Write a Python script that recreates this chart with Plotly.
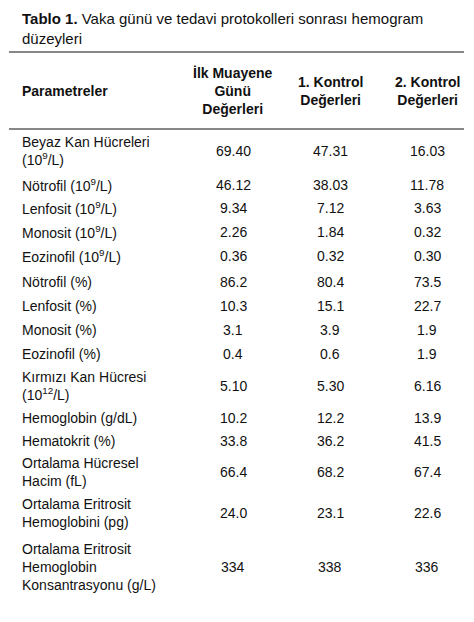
import plotly.graph_objects as go

parametreler = ["Beyaz Kan Hücreleri<br>(10<sup>9</sup>/L)", "Nötrofil (10<sup>9</sup>/L)", "Lenfosit (10<sup>9</sup>/L)",
                "Monosit (10<sup>9</sup>/L)", "Eozinofil (10<sup>9</sup>/L)", "Nötrofil (%)", "Lenfosit (%)",
                "Monosit (%)", "Eozinofil (%)", "Kırmızı Kan Hücresi<br>(10<sup>12</sup>/L)", "Hemoglobin (g/dL)",
                "Hematokrit (%)", "Ortalama Hücresel<br>Hacim (fL)", "Ortalama Eritrosit<br>Hemoglobini (pg)",
                "Ortalama Eritrosit<br>Hemoglobin<br>Konsantrasyonu (g/L)"]
ilk = ["69.40", "46.12", "9.34", "2.26", "0.36", "86.2", "10.3", "3.1", "0.4", "5.10", "10.2", "33.8", "66.4", "24.0", "334"]
kontrol1 = ["47.31", "38.03", "7.12", "1.84", "0.32", "80.4", "15.1", "3.9", "0.6", "5.30", "12.2", "36.2", "68.2", "23.1", "338"]
kontrol2 = ["16.03", "11.78", "3.63", "0.32", "0.30", "73.5", "22.7", "1.9", "1.9", "6.16", "13.9", "41.5", "67.4", "22.6", "336"]
basliklar = ["<b>Parametreler</b>", "<b>İlk Muayene<br>Günü<br>Değerleri</b>", "<b>1. Kontrol<br>Değerleri</b>", "<b>2. Kontrol<br>Değerleri</b>"]

OFF = 8  # page body margin
row_y = [y - OFF for y in [151, 185, 208, 232, 256, 282, 306, 330, 354, 386, 418, 441, 472, 513, 567]]
col_x = [x - OFF for x in [233, 330, 427]]
LEFT = 20 - OFF
FONT = dict(family="Liberation Sans, Arial, sans-serif", size=14, color="#111")

fig = go.Figure()
fig.add_trace(go.Scatter(x=[0], y=[0], mode="markers", marker=dict(opacity=0), hoverinfo="skip"))
for cx, vals in zip(col_x, [ilk, kontrol1, kontrol2]):
    for y, v in zip(row_y, vals):
        fig.add_annotation(x=cx, y=y, text=v, showarrow=False, font=FONT)
for y, t in zip(row_y, parametreler):
    fig.add_annotation(x=LEFT, y=y, text=t, xanchor="left", yanchor="middle", align="left",
                       showarrow=False, font=FONT)
fig.add_annotation(x=LEFT, y=91 - OFF, text=basliklar[0], xanchor="left", showarrow=False, font=FONT)
for cx, t in zip(col_x, basliklar[1:]):
    fig.add_annotation(x=cx, y=91 - OFF, text=t, showarrow=False, font=FONT, align="center")
fig.add_annotation(x=LEFT, y=28 - OFF, xanchor="left", align="left", showarrow=False,
                   text="<b>Tablo 1.</b> Vaka günü ve tedavi protokolleri sonrası hemogram<br>düzeyleri",
                   font=dict(family="Liberation Sans, Arial, sans-serif", size=15, color="#111"))
for y in [52, 129]:
    fig.add_shape(type="line", x0=9 - OFF, x1=464 - OFF, y0=y - OFF, y1=y - OFF,
                  line=dict(color="#111", width=1.2))

fig.update_layout(width=474, height=622, margin=dict(l=0, r=0, t=0, b=0), showlegend=False,
                  paper_bgcolor="white", plot_bgcolor="white",
                  xaxis=dict(range=[0, 474], visible=False, fixedrange=True),
                  yaxis=dict(range=[622, 0], visible=False, fixedrange=True))
fig.write_html("out.html")
